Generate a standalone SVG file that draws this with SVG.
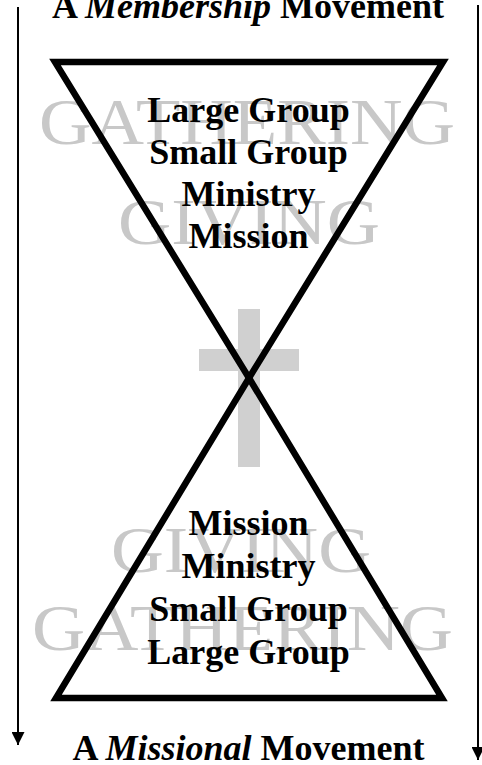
<svg xmlns="http://www.w3.org/2000/svg" width="482" height="765" viewBox="0 0 482 765">
<style>
.wm{font-family:"Liberation Serif","Times New Roman",serif;font-size:66px;fill:#c8c8c8;text-anchor:middle}
.lbl{font-family:"Liberation Serif","Times New Roman",serif;font-size:36px;font-weight:bold;fill:#000;text-anchor:middle}
.title{font-family:"Liberation Serif","Times New Roman",serif;font-size:36px;font-weight:bold;fill:#000;text-anchor:middle}
.tri{fill:none;stroke:#000;stroke-width:6.5;stroke-linejoin:miter}
.flow{stroke:#000;stroke-width:2;fill:none}
</style>
<defs>
<marker id="ah" viewBox="0 0 10 10" refX="10" refY="5" markerWidth="13" markerHeight="13" markerUnits="userSpaceOnUse" orient="auto">
<path d="M0,0 L10,5 L0,10 Z" fill="#000"/>
</marker>
</defs>
<rect width="482" height="765" fill="#fff"/>
<g id="cross">
<rect x="238" y="309" width="22" height="158" fill="#d0d0d0"/>
<rect x="199" y="349" width="100" height="22" fill="#d0d0d0"/>
</g>
<g id="watermarks">
<text class="wm" x="247" y="144" textLength="416" lengthAdjust="spacingAndGlyphs">GATHERING</text>
<text class="wm" x="249" y="244" textLength="262" lengthAdjust="spacingAndGlyphs">GIVING</text>
<text class="wm" x="241" y="572" textLength="260" lengthAdjust="spacingAndGlyphs">GIVING</text>
<text class="wm" x="242.5" y="650" textLength="421" lengthAdjust="spacingAndGlyphs">GATHERING</text>
</g>
<g id="top-triangle">
<polygon class="tri" points="55,62 443,62 249,378"/>
<text class="lbl" x="248.5" y="122">Large Group</text>
<text class="lbl" x="248.5" y="164">Small Group</text>
<text class="lbl" x="248.5" y="206">Ministry</text>
<text class="lbl" x="248.5" y="248">Mission</text>
</g>
<g id="bottom-triangle">
<polygon class="tri" points="249,378 442,698 56,698"/>
<text class="lbl" x="248.5" y="535">Mission</text>
<text class="lbl" x="248.5" y="578">Ministry</text>
<text class="lbl" x="248.5" y="621">Small Group</text>
<text class="lbl" x="248.5" y="664">Large Group</text>
</g>
<g id="title-top">
<text class="title" x="248" y="18">A <tspan font-style="italic">Membership</tspan> Movement</text>
</g>
<g id="title-bottom">
<text class="title" x="248.5" y="760">A <tspan font-style="italic">Missional</tspan> Movement</text>
</g>
<g id="connectors">
<line class="flow" x1="18" y1="7" x2="18" y2="745" marker-end="url(#ah)"/>
<line class="flow" x1="478" y1="5" x2="478" y2="760" marker-end="url(#ah)"/>
</g>
</svg>
